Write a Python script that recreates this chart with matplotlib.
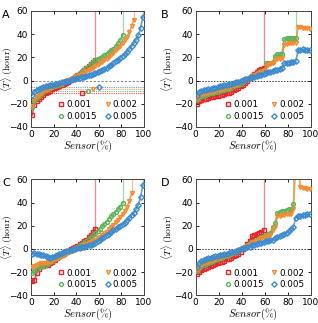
import matplotlib
matplotlib.use('Agg')
import matplotlib.pyplot as plt

plt.rcParams['mathtext.fontset'] = 'cm'
plt.rcParams['font.size'] = 7

# sensor coverage (%) at which each point is sampled
sensor = list(range(1, 100, 2))
labels = ['0.001', '0.0015', '0.002', '0.005']
colors = ['#e8262b', '#5ab55a', '#f58a2e', '#3b8bd0']
markers = ['s', 'o', 'v', 'D']

# Panel A
a_001 = [-30, -21, -18, -15.5, -14, -12.5, -11, -10, -9, -7.5, -6.5, -5.5, -5, -4, -3, -2, -1, 0.5, 1.5, 3,
         4.5, 6, 7.5, 9.5, 11, 12.5, 14, 16, 18]
a_0015 = [-23, -18, -15, -13, -11.5, -10, -8.5, -7.5, -6.5, -5.5, -5, -4, -3.5, -2.5, -1.5, -0.5, 0.5, 1.5, 2.5, 4,
          5, 6.5, 8, 9.5, 11, 12.5, 14, 16, 17.5, 19, 19.5, 20.5, 22, 23, 24.5, 26, 27.5, 29.5, 32, 35, 39.5]
a_002 = [-22, -17, -14.5, -12.5, -10.5, -9, -8, -7, -6, -5.5, -4.5, -4, -3, -2.5, -1.5, -0.5, 0.5, 1, 2, 3,
         4, 5, 6, 7, 8, 9, 10, 11, 12.5, 13.5, 15, 16, 17.5, 19, 20.5, 22, 24, 26, 28, 30,
         32, 35, 38, 42, 47, 52.5]
a_005 = [-12.5, -10, -8.5, -7.5, -6.5, -5.5, -5, -4.5, -4, -3.5, -3, -2.5, -2, -1.5, -1, -0.5, 0, 0.5, 1, 1.5,
         2, 2.5, 3, 3.5, 4, 4.5, 5, 6, 6.5, 7.5, 8, 9, 10, 11, 12.5, 13.5, 15, 16.5, 18, 19.5,
         21, 23, 25, 27, 29.5, 32, 35, 39, 45, 55]
# mean values in panel A (dotted lines) and where they are marked
a_mean = [-11, -9, -7.5, -5.5]
a_mean_x = [45, 50.5, 55, 60.5]

# Panel B
b_001 = [-20, -18, -17, -16, -15.5, -15, -14.5, -14, -13.5, -13, -12.5, -12, -11.5, -11, -10.5, -9.5, -8.5, -7.5, -6, -5,
         -3.5, -2, 0, 2, 4, 6, 7, 9.5, 10, 10.5]
b_0015 = [-17, -15, -13.5, -13, -12, -11.5, -11, -10.5, -10, -9.5, -9, -8.5, -8, -7.5, -7, -6, -5, -4, -3.5, -2.5,
          -1, 0.5, 1.5, 3, 4, 5, 6, 7, 8, 9, 15, 15, 15.5, 16, 21, 23, 23, 23, 36, 36.5,
          36.5, 36.5, 37, 37]
b_002 = [-16, -14, -12.5, -11.5, -11, -10.5, -10, -9.5, -9, -8.5, -8, -7.5, -7, -6.5, -6, -5, -4.5, -3.5, -2.5, -1.5,
         -0.5, 0.5, 1.5, 2.5, 3.5, 4.5, 5.5, 6.5, 7.5, 8.5, 13, 13.5, 14, 15, 18, 19, 19, 19.5, 31, 31.5,
         32, 32, 32, 32.5, 46, 46, 45.5, 45.5, 45, 44.5]
b_005 = [-13, -10, -9, -8.5, -8, -7.5, -7, -6.5, -6, -5.5, -5, -4.5, -4, -3.5, -3, -2.5, -2, -1.5, -1, -0.5,
         0.5, 1, 1.5, 2.5, 3, 3.5, 4, 4.5, 5, 5.5, 6.5, 7, 7.5, 8, 9, 9.5, 10, 10.5, 15, 15.5,
         15.5, 16, 16, 16.5, 26, 26.5, 27, 26.5, 26.5, 26]

# Panel C
c_001 = [-28, -27, -21, -17, -15, -14.5, -14, -13.5, -12.5, -11, -9.5, -8, -6.5, -5, -4, -3, -2, -0.5, 0.5, 1.5,
         2.5, 4, 5, 6.5, 8, 10, 12, 14.5, 17.5]
c_0015 = [-21, -19, -17, -16, -15, -14.5, -13.5, -12.5, -11.5, -10.5, -9, -8, -7, -5.5, -4.5, -3.5, -2.5, -1.5, -0.5, 0.5,
          1.5, 3, 4, 5.5, 7, 8.5, 10, 12, 13.5, 15.5, 17.5, 19.5, 21.5, 23.5, 26, 28, 30, 32, 34, 36.5, 40]
c_002 = [-16, -14.5, -13.5, -13, -12.5, -12, -12, -11.5, -11, -10, -9, -8, -7, -6, -5, -4, -3, -2, -1.5, -0.5,
         0.5, 1, 2, 3, 4, 5, 6, 7, 8, 9.5, 10.5, 12, 13.5, 15, 17, 19, 21, 23, 25, 27.5,
         30, 33, 36.5, 41, 48]
c_005 = [-4, -3.5, -4, -4.5, -5, -5.5, -6.5, -7, -7.5, -7, -6, -5, -4, -3.5, -2.5, -2, -1.5, -1, -0.5, 0,
         0.5, 1, 1.5, 2, 2.5, 3, 3.5, 4.5, 5.5, 6.5, 7.5, 9, 10.5, 12, 13, 14.5, 16, 17, 18.5, 20,
         21.5, 22.5, 24.5, 26.5, 29, 31, 34, 38, 45, 55]

# Panel D
d_001 = [-22, -20, -18.5, -17.5, -16.5, -15.5, -14.5, -14, -13, -12.5, -11.5, -11, -10, -9, -8.5, -7.5, -6.5, -5.5, -4, -2.5,
         -0.5, 1.5, 4, 7, 11, 12, 13, 14, 15, 16]
d_0015 = [-19, -16.5, -15, -14, -13, -12, -11, -10.5, -9.5, -9, -8, -7.5, -6.5, -6, -5, -4.5, -3.5, -2.5, -1.5, -0.5,
          0.5, 1.5, 3, 4.5, 6, 7, 8, 9, 10, 11, 12, 13, 14, 19, 22, 31, 32, 33, 33, 33.5,
          34, 34, 39]
d_002 = [-18, -15.5, -13.5, -12.5, -11.5, -11, -10, -9.5, -9, -8, -7.5, -7, -6, -5.5, -5, -4, -3, -2, -1.5, -0.5,
         0.5, 1.5, 2.5, 4, 5, 6, 7, 8, 9, 10, 10.5, 11.5, 12, 16, 19, 28, 28.5, 29, 29.5, 30,
         30, 30.5, 34, 75, 75, 53, 52.5, 52.5, 52, 51.5]
d_005 = [-16, -12, -10.5, -9.5, -8.5, -8, -7.5, -7, -6.5, -6, -5.5, -5, -4.5, -4, -3.5, -3, -2.5, -2, -1, -0.5,
         0.5, 1, 1.5, 2, 3, 3.5, 4.5, 5, 5.5, 6, 6.5, 7, 7.5, 8, 9, 10, 11, 12, 13, 14,
         15.5, 17.5, 19, 27, 28, 28.5, 29, 29.5, 30, 30]

panels = [
    ('A', [a_001, a_0015, a_002, a_005], [True, True, True, True]),
    ('B', [b_001, b_0015, b_002, b_005], [True, True, False, False]),
    ('C', [c_001, c_0015, c_002, c_005], [True, True, True, True]),
    ('D', [d_001, d_0015, d_002, d_005], [True, True, False, False]),
]

W, H = 318, 323
fig = plt.figure(figsize=(W / 100, H / 100), dpi=100)
# left, top, width, height in pixels; letter x; right edge of y label
boxes = {
    'A': ([31, 11, 113, 116], 2, 15),
    'B': ([195.7, 11, 115, 116], 161, 176),
    'C': ([31, 179.3, 113, 116], 2, 15),
    'D': ([195.7, 179.3, 115, 116], 161, 176),
}

for letter, series, goes_up in panels:
    (l, t, w, h), lx, yl = boxes[letter]
    ax = fig.add_axes([l / W, 1 - (t + h) / H, w / W, h / H])
    if letter == 'A':
        ax.axhline(0, color='#888888', ls=(0, (2, 1.5)), lw=0.8, zorder=1)
        for m, mx, c, mk in zip(a_mean, a_mean_x, colors, markers):
            ax.axhline(m, color=c, ls=(0, (1, 1)), lw=0.8, alpha=0.8, zorder=1)
            ax.plot(mx, m, marker=mk, ms=2.8, mfc='none', mec=c, mew=1.0, zorder=3)
    else:
        ax.axhline(0, color='#333333', ls=(0, (1.5, 1.5)), lw=0.7, zorder=1)
    for y, lab, c, mk, up in zip(series, labels, colors, markers, goes_up):
        x = sensor[:len(y)]
        if up:
            ax.plot([x[-1], x[-1]], [y[-1], 60], color=c, lw=0.9, alpha=0.55, zorder=2)
        ax.plot(x, y, color=c, lw=1.2, alpha=0.8, zorder=2)
        ax.plot(x, y, ls='none', marker=mk, ms=2.8, mfc='none', mec=c, mew=1.0,
                label=lab, zorder=3)
    ax.set_xlim(0, 100)
    ax.set_ylim(-40, 60)
    ax.set_xticks([0, 20, 40, 60, 80, 100])
    ax.set_yticks([-40, -20, 0, 20, 40, 60])
    ax.tick_params(direction='in', length=2.5, width=0.6, top=True, right=True, labelsize=6.5, pad=2)
    for s in ax.spines.values():
        s.set_linewidth(0.7)
        s.set_color('#444444')
    ax.set_xlabel(r'$Sensor(\%)$', fontsize=7.5, labelpad=0)
    ax.set_ylabel(r'$\langle T\rangle\ (\mathrm{hour})$', fontsize=7)
    ax.yaxis.set_label_coords((yl - l) / w, 0.5)
    ax.legend(loc='lower right', ncol=2, frameon=False, fontsize=6.3, handlelength=0.8,
              handletextpad=0.2, columnspacing=0.8, labelspacing=0.3, borderaxespad=0.3)
    fig.text(lx / W, 1 - (t - 1) / H, letter, fontsize=8, va='top', ha='left')

fig.savefig('out.png', dpi=100)
